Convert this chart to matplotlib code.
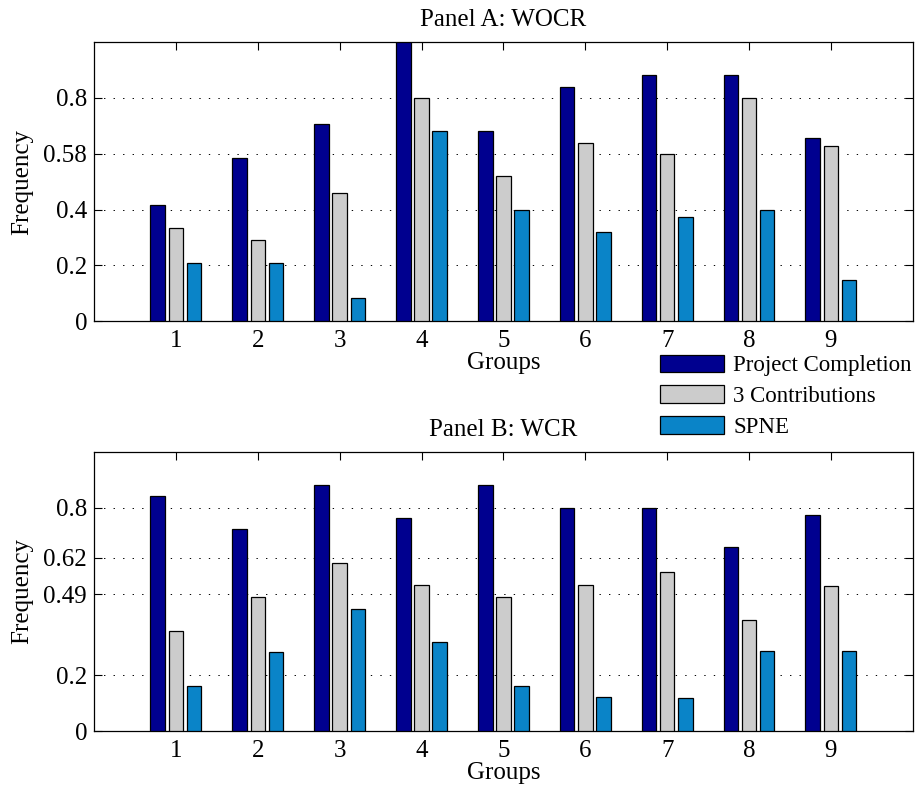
import matplotlib
matplotlib.use("Agg")
import matplotlib.pyplot as plt
import numpy as np

plt.rcParams["font.family"] = ["Liberation Serif", "DejaVu Serif"]

# Data
groups = [1, 2, 3, 4, 5, 6, 7, 8, 9]
series_names = ["Project Completion", "3 Contributions", "SPNE"]

wocr_completion = [0.417, 0.583, 0.708, 1.0, 0.68, 0.838, 0.883, 0.883, 0.656]
wocr_three = [0.333, 0.292, 0.458, 0.8, 0.52, 0.638, 0.60, 0.80, 0.629]
wocr_spne = [0.208, 0.208, 0.083, 0.68, 0.40, 0.321, 0.373, 0.40, 0.148]

wcr_completion = [0.840, 0.722, 0.881, 0.761, 0.881, 0.80, 0.80, 0.659, 0.773]
wcr_three = [0.359, 0.479, 0.603, 0.524, 0.479, 0.524, 0.571, 0.399, 0.519]
wcr_spne = [0.162, 0.282, 0.438, 0.321, 0.162, 0.123, 0.119, 0.287, 0.287]

# Panel A tick labels do not match their positions in the original
wocr_yticks = [0, 0.2, 0.4, 0.6, 0.8]
wocr_yticklabels = ["0", "0.2", "0.4", "0.58", "0.8"]
wcr_yticks = [0, 0.2, 0.49, 0.62, 0.8]
wcr_yticklabels = ["0", "0.2", "0.49", "0.62", "0.8"]

colors = ["#00008f", "#cccccc", "#0a84c8"]
FS = 18
LEGEND_FS = 16.5
BAR_W = 0.178
OFFSET = 0.222


def draw_panel(ax, values, yticks, yticklabels, title):
    x = np.array(groups, dtype=float)
    for i, (vals, col, name) in enumerate(zip(values, colors, series_names)):
        ax.bar(x + (i - 1) * OFFSET, vals, width=BAR_W, color=col,
               edgecolor="black", linewidth=0.9, label=name, zorder=3)
    ax.set_xlim(0, 10)
    ax.set_ylim(0, 1.0)
    ax.set_xticks(groups)
    ax.set_xticklabels([str(g) for g in groups], fontsize=FS)
    ax.set_yticks(yticks)
    ax.set_yticklabels(yticklabels, fontsize=FS)
    ax.tick_params(direction="in", length=5.5, width=0.8, top=True, right=True)
    ax.tick_params(axis="x", pad=6)
    ax.tick_params(axis="y", pad=5)
    ax.yaxis.grid(True, color="black", linewidth=0.7, linestyle=(0, (1.4, 8.4)), zorder=0)
    ax.set_axisbelow(True)
    for sp in ax.spines.values():
        sp.set_linewidth(0.9)
    ax.set_xlabel("Groups", fontsize=FS, labelpad=0)
    ax.set_ylabel("Frequency", fontsize=FS)
    ax.yaxis.set_label_coords(-0.0745, 0.5)
    ax.set_title(title, fontsize=FS, pad=11.5)


fig = plt.figure(figsize=(9.22, 7.95), dpi=100)
ax1 = fig.add_axes([0.102, 0.596, 0.888, 0.351])
ax2 = fig.add_axes([0.102, 0.080, 0.888, 0.352])

draw_panel(ax1, [wocr_completion, wocr_three, wocr_spne],
           wocr_yticks, wocr_yticklabels, "Panel A: WOCR")
draw_panel(ax2, [wcr_completion, wcr_three, wcr_spne],
           wcr_yticks, wcr_yticklabels, "Panel B: WCR")

handles, labels = ax1.get_legend_handles_labels()
fig.legend(handles, labels, loc="upper left", bbox_to_anchor=(0.716, 0.554),
           frameon=False, fontsize=LEGEND_FS, borderpad=0, borderaxespad=0,
           handlelength=2.8, handleheight=0.8, handletextpad=0.38,
           labelspacing=0.4)

fig.savefig("out.png", dpi=100)
